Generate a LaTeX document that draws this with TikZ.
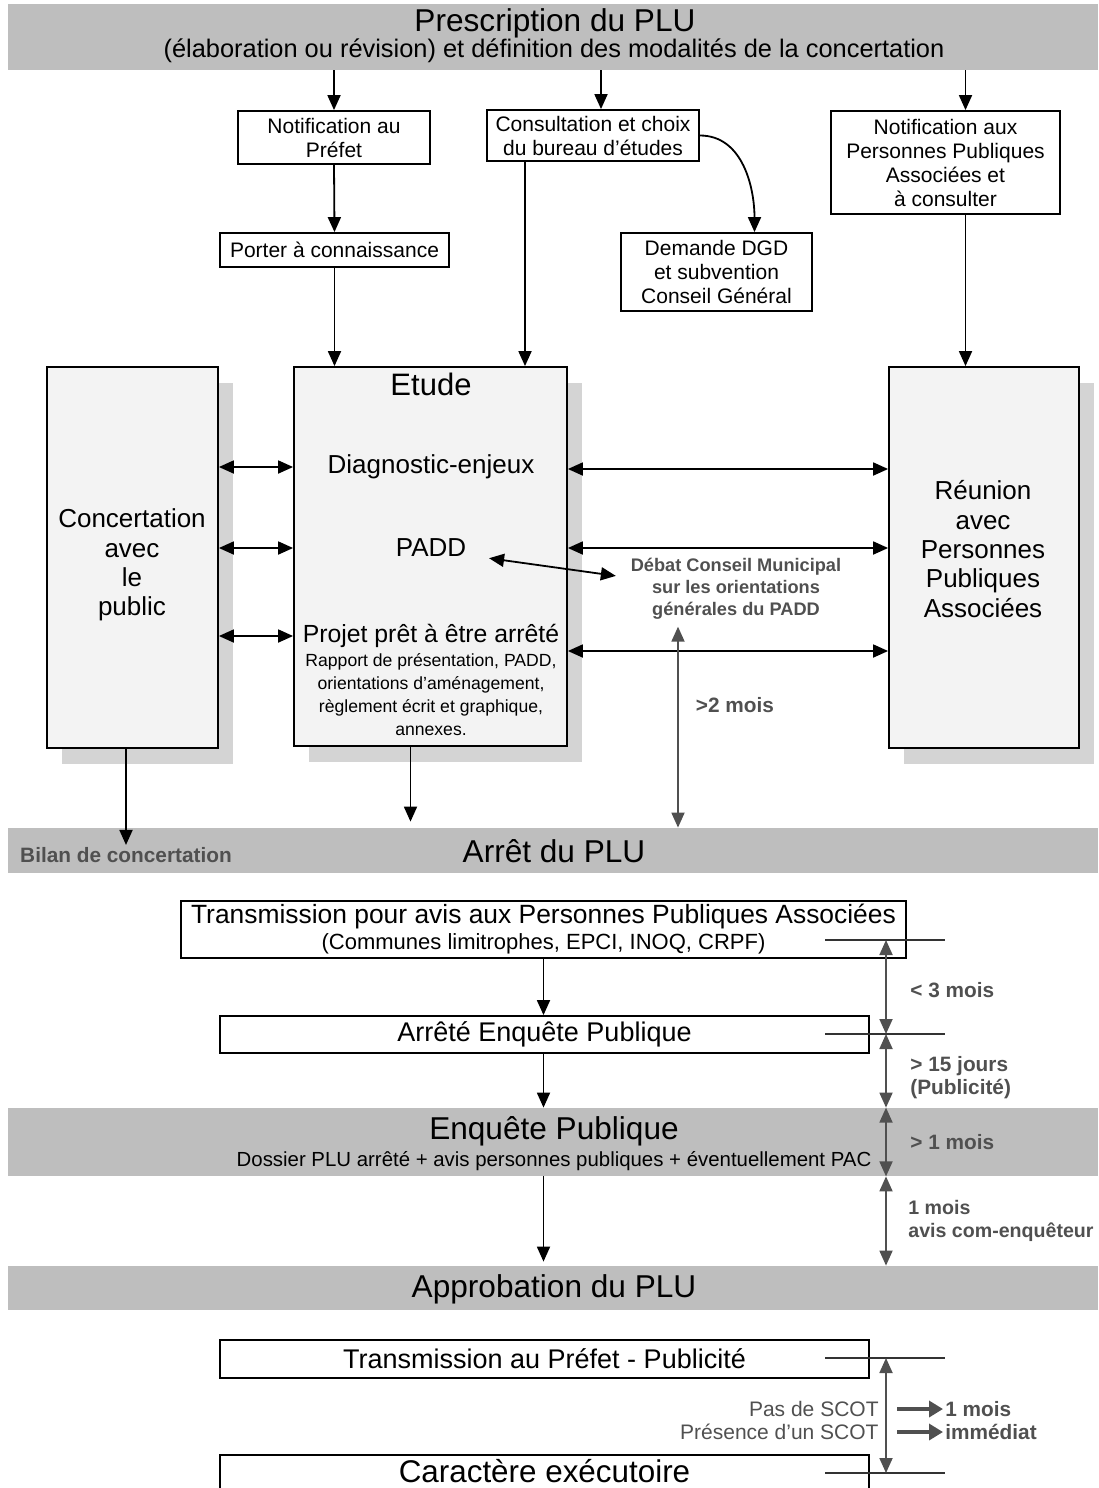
\documentclass[tikz,border=0pt]{standalone}
\usepackage{fontspec}
\setmainfont{Liberation Sans}
\usetikzlibrary{arrows.meta,positioning,shadows}

\definecolor{bandgray}{RGB}{190,190,190}
\definecolor{boxfill}{RGB}{243,243,243}
\definecolor{shadowgray}{RGB}{212,212,212}
\definecolor{notegray}{RGB}{80,80,80}

\tikzset{
    arr/.style={-{Triangle[length=7.5pt,width=6.5pt]}, line width=0.9pt},
    darr/.style={{Triangle[length=7.5pt,width=6.5pt]}-{Triangle[length=7.5pt,width=6.5pt]}, line width=0.9pt},
    garr/.style={darr, draw=notegray},
    fatarr/.style={-{Triangle[length=7pt,width=8pt]}, line width=2pt, draw=notegray},
    tick/.style={line width=0.7pt, draw=black!80},
    smallbox/.style={draw, line width=0.9pt, fill=white, align=center, inner sep=0pt,
        font=\fontsize{10.5}{12}\selectfont},
    bigbox/.style={draw, line width=0.9pt, fill=boxfill, inner sep=0pt,
        drop shadow={shadow xshift=7.5pt, shadow yshift=-8pt, fill=shadowgray, opacity=1}},
    bigtext/.style={align=center, font=\fontsize{13}{14.7}\selectfont},
    band/.style={fill=bandgray, minimum width=545pt, inner sep=0pt, align=center},
    bandtitle/.style={font=\fontsize{15.8}{18}\selectfont},
    graylabel/.style={text=notegray, font=\bfseries\fontsize{10.4}{11.6}\selectfont, align=left, inner sep=1pt}
}

\begin{document}
\begin{tikzpicture}[x=0.5pt, y=-0.5pt]
    \useasboundingbox (0,0) rectangle (1098,1488);

    % Bands
    \node[band, minimum height=33pt] (presc) at (553,37) {};
    \node[bandtitle] (presctitle) at (555,23) {Prescription du PLU};
    \node[font=\fontsize{12.7}{14}\selectfont] (prescsub) at (554,51)
        {(élaboration ou révision) et définition des modalités de la concertation};

    \node[band, minimum height=22.5pt] (arret) at (553,850.5) {};
    \node[bandtitle] (arrettitle) at (554,851) {Arrêt du PLU};
    \node[graylabel] (bilan) at (126,855) {Bilan de concertation};

    \node[band, minimum height=34pt] (enquete) at (553,1142) {};
    \node[bandtitle] (enquetetitle) at (554,1131) {Enquête Publique};
    \node[font=\fontsize{10.2}{12}\selectfont] (enquetesub) at (554,1161)
        {Dossier PLU arrêté + avis personnes publiques + éventuellement PAC};

    \node[band, minimum height=22pt] (approb) at (553,1288) {};
    \node[bandtitle] (approbtitle) at (554,1289) {Approbation du PLU};

    % Top boxes
    \node[smallbox, minimum width=96pt, minimum height=26.5pt] (notifpref) at (334,137.5)
        {Notification au\\Préfet};
    \node[smallbox, minimum width=106pt, minimum height=25.5pt] (consult) at (593,135.5)
        {Consultation et choix\\du bureau d'études};
    \node[smallbox, minimum width=114.5pt, minimum height=51.5pt] (notifppa) at (945.5,162.5)
        {Notification aux\\Personnes Publiques\\Associées et\\à consulter};
    \node[smallbox, minimum width=114.5pt, minimum height=17pt] (porter) at (334.5,250)
        {Porter à connaissance};
    \node[smallbox, minimum width=95.5pt, minimum height=39pt] (demande) at (716.5,272)
        {Demande DGD\\et subvention\\Conseil Général};

    % Big boxes
    \node[bigbox, minimum width=85.5pt, minimum height=190.5pt] (concert) at (132.5,557.5) {};
    \node[bigbox, minimum width=136.5pt, minimum height=189.5pt] (etude) at (430.5,556.5) {};
    \node[bigbox, minimum width=95pt, minimum height=190.5pt] (reunion) at (984,557.5) {};
    \node[bigtext] (concerttext) at (132,565) {Concertation\\avec\\le\\public};
    \node[bigtext] (reuniontext) at (983,549) {Réunion\\avec\\Personnes\\Publiques\\Associées};

    % Inside Etude
    \node[font=\fontsize{15.5}{17}\selectfont] (etudetitle) at (431,384) {Etude};
    \node[font=\fontsize{13}{15}\selectfont] (diag) at (431,467) {Diagnostic-enjeux};
    \node[font=\fontsize{13}{15}\selectfont] (padd) at (431,548) {PADD};
    \node[font=\fontsize{12.4}{14}\selectfont] (projet) at (431,636) {Projet prêt à être arrêté};
    \node[font=\fontsize{8.8}{11.5}\selectfont, align=center, inner sep=0pt] (pieces) at (431,695)
        {Rapport de présentation, PADD,\\orientations d'aménagement,\\règlement écrit et graphique,\\annexes.};

    \node[text=notegray, font=\bfseries\fontsize{9.1}{11}\selectfont, align=center] (debat) at (736,589)
        {Débat Conseil Municipal\\sur les orientations\\générales du PADD};
    \node[graylabel] (deuxmois) at (735,705) {>2 mois};

    % Lower boxes
    \node[smallbox, minimum width=362.5pt, minimum height=28.5pt, font=\fontsize{13.2}{13}\selectfont] (transavis) at (543.5,929.5)
        {Transmission pour avis aux Personnes Publiques Associées\\{\fontsize{11}{13}\selectfont (Communes limitrophes, EPCI, INOQ, CRPF)}};
    \node[smallbox, minimum width=324.5pt, minimum height=18.5pt, font=\fontsize{13.5}{15}\selectfont] (arreteep) at (544.5,1034.5)
        {Arrêté Enquête Publique};
    \node[smallbox, minimum width=324.5pt, minimum height=19pt, font=\fontsize{13.5}{15}\selectfont] (transpref) at (544.5,1359)
        {Transmission au Préfet - Publicité};
    \node[smallbox, minimum width=324.5pt, minimum height=20pt] (caract) at (544.5,1475) {};
    \node[font=\fontsize{15.7}{17}\selectfont, inner sep=0pt] (caracttext) at (544.5,1471) {Caractère exécutoire};

    % Arrows top
    \draw[arr] (presc.south -| notifpref.north) -- (notifpref.north);
    \draw[arr] ([xshift=4pt]presc.south -| consult.north) -- ([xshift=4pt]consult.north);
    \draw[arr] ([xshift=10pt]presc.south -| notifppa.north) -- ([xshift=10pt]notifppa.north);
    \draw[arr] (notifpref.south) -- (porter.north);
    \draw[arr] (consult.east) to[out=0, in=90] ([xshift=19pt]demande.north);
    \draw[arr] (porter.south) -- (porter.south |- etude.north);
    \draw[arr] ([xshift=-34pt]consult.south) -- ([xshift=-34pt]consult.south |- etude.north);
    \draw[arr] ([xshift=10pt]notifppa.south) -- ([xshift=10pt]notifppa.south |- reunion.north);

    % Exchanges
    \draw[darr] (concert.east |- diag) -- (etude.west |- diag);
    \draw[darr] (concert.east |- padd) -- (etude.west |- padd);
    \draw[darr] (concert.east |- projet) -- (etude.west |- projet);
    \draw[darr] ([yshift=-1pt]etude.east |- diag) -- ([yshift=-1pt]reunion.west |- diag);
    \draw[darr] (etude.east |- padd) -- (reunion.west |- padd);
    \draw[darr] ([yshift=-7.5pt]etude.east |- projet) -- ([yshift=-7.5pt]reunion.west |- projet);
    \draw[darr, shorten <=8pt, shorten >=4pt] ([yshift=-4pt]padd.east) -- ([yshift=6pt]debat.west);
    \draw[garr] ([xshift=-29pt]debat.south) -- ([xshift=-29pt]debat.south |- arret.north);

    % Towards Arret
    \draw[arr] (concert.south -| bilan.north) -- (bilan.north);
    \draw[arr, shorten >=3pt] ([xshift=-10pt]etude.south) -- ([xshift=-10pt]etude.south |- arret.north);

    % Arrows bottom
    \draw[arr] (transavis.south) -- (transavis.south |- arreteep.north);
    \draw[arr] (arreteep.south -| transavis.south) -- (transavis.south |- enquete.north);
    \draw[arr, shorten >=2pt] (enquete.south -| transavis.south) -- (transavis.south |- approb.north);

    % Time line
    \coordinate (t1) at (886,940);
    \coordinate (t2) at (886,1034);
    \coordinate (t6) at (886,1358);
    \coordinate (t7) at (886,1473);
    \foreach \t in {t1,t2,t6,t7}
        \draw[tick] ([xshift=-30.5pt]\t) -- ([xshift=29.5pt]\t);
    \draw[garr] (t1) -- (t2);
    \draw[garr] (t2) -- (t2 |- enquete.north);
    \draw[garr] (t2 |- enquete.north) -- (t2 |- enquete.south);
    \draw[garr] (t2 |- enquete.south) -- (t2 |- approb.north);
    \draw[garr] (t6) -- (t7);

    \node[graylabel, anchor=west] (troismois) at (908,990) {< 3 mois};
    \node[graylabel, anchor=west] (quinze) at (908,1078) {> 15 jours\\(Publicité)};
    \node[graylabel, anchor=west] (unmoisplus) at (908,1142) {> 1 mois};
    \node[graylabel, anchor=west, font=\bfseries\fontsize{9.8}{11.6}\selectfont] (commissaire) at (906,1221) {1 mois\\avis com-enquêteur};

    \node[text=notegray, font=\fontsize{10.5}{12}\selectfont, anchor=east, inner sep=1pt] (passcot) at (881,1409) {Pas de SCOT};
    \node[text=notegray, font=\fontsize{10.5}{12}\selectfont, anchor=east, inner sep=1pt] (avecscot) at (881,1432) {Présence d'un SCOT};
    \node[graylabel, anchor=west] (unmois) at (943,1409) {1 mois};
    \node[graylabel, anchor=west] (immediat) at (943,1432) {immédiat};
    \draw[fatarr] ([xshift=8pt]passcot.east) -- (unmois.west);
    \draw[fatarr] ([xshift=8pt]avecscot.east) -- (immediat.west);
\end{tikzpicture}
\end{document}
